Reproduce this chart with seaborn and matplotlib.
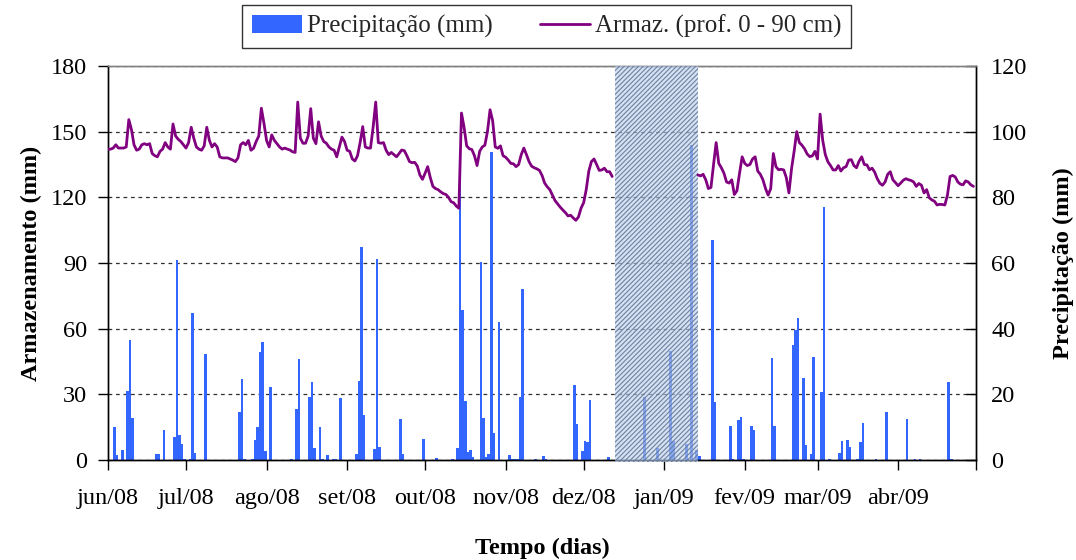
import numpy as np
import pandas as pd
import matplotlib
matplotlib.use("Agg")
import matplotlib.pyplot as plt
from matplotlib.patches import Patch
from matplotlib.lines import Line2D
import seaborn as sns

nan = np.nan

# Daily soil water storage, 0-90 cm (mm), one list per month; NaN = no reading
armaz_jun = [142, 142, 142.5, 144, 142.5, 142.5, 142.5, 143, 155.5, 151,
             144, 141.5, 142, 144, 144.5, 144, 144.5, 140, 139, 138.5,
             141, 142, 145, 143, 142, 153.5, 148, 146.5, 145.5, 144]
armaz_jul = [142.5, 145, 152, 147, 143, 142, 141.5, 143.5, 152, 146,
             143, 144.5, 143, 138.5, 138, 138, 138, 137.5, 137, 136.3,
             138, 144, 145, 144, 146, 141.5, 142.4, 145.5, 148, 160.7,
             153.8]
armaz_ago = [146, 143, 148.5, 146, 144.5, 143, 142, 142.5, 142, 141.6,
             140.8, 140.5, 163.5, 147, 144.7, 144.7, 148, 160.5, 147, 144.5,
             154.5, 148, 145.5, 144.7, 143, 142, 141.5, 138.5, 143, 147.5,
             145.5]
armaz_set = [141.5, 141, 137.5, 136.6, 139, 145, 152.3, 143, 142.5, 142.5,
             152, 163.5, 145, 144.7, 145, 141.5, 139.5, 140.5, 139.5, 138.5,
             140, 141.6, 141.3, 139, 136.3, 135.8, 136, 134.3, 130.2, 128.2]
armaz_out = [131, 134, 129, 125, 124, 123.5, 122.5, 121.7, 121.3, 120,
             118, 117.5, 116, 115, 158.5, 152, 143.5, 142.2, 141.8, 139,
             134.5, 141, 143, 143.8, 150, 160, 155, 143, 142.4, 143.5,
             139]
armaz_nov = [138.3, 137, 135.5, 135.3, 134, 135, 139.5, 142.5, 139.5, 136.3,
             134.2, 133.5, 133, 132.3, 130, 126.5, 124.8, 123.5, 121, 118.5,
             117, 115.5, 114.2, 113, 111.5, 111.8, 110.6, 109.5, 111, 115]
armaz_dez = [117.5, 123.5, 132, 136.3, 137.5, 135, 132.3, 132.5, 133.3, 131.7,
             131.7, 129.5] + [nan] * 19
armaz_jan = [nan] * 13 + [130.2, 129.8, 130.5, 128, 124, 124.5, 135, 145, 135.5, 133.5,
                          131, 127, 126.5, 128, 121.3, 123, 131, 138.5]
armaz_fev = [135.5, 134.5, 135, 137.5, 138.5, 132, 130.5, 128, 124, 121,
             124, 140, 134, 132.6, 132.8, 132.5, 129, 122, 133, 141,
             150, 145, 143.8, 142.2, 139.8, 138.6, 138.9, 141]
armaz_mar = [137.5, 158, 146, 139.5, 136.2, 134.5, 132.5, 132.5, 134.5, 132,
             133.5, 134, 137, 137.2, 134.5, 133.5, 136.5, 138.5, 135, 134.8,
             132.6, 133.3, 131.5, 128.5, 126.4, 125.5, 127, 130.5, 131.7, 128,
             126.7]
armaz_abr = [125.3, 126.5, 127.8, 128.5, 128, 127.7, 127, 125, 126.3, 125.5,
             122, 123.5, 119.8, 118.8, 118.2, 116.5, 116.8, 116.7, 116.5, 121,
             129.5, 130, 129.3, 127, 126, 125.7, 127.5, 127, 125.7, 125]

# Daily rainfall (mm), one list per month
prec_jun = [0, 0, 10, 1.5, 0, 3, 0, 21, 36.5, 12.7,
            0, 0, 0, 0, 0, 0, 0, 0, 1.8, 1.8,
            0, 9, 0, 0, 0, 7, 61, 7.6, 4.9, 0.3]
prec_jul = [0, 0.3, 44.7, 2, 0, 0, 0, 32.3, 0, 0,
            0, 0, 0, 0, 0, 0, 0, 0, 0, 0,
            14.7, 24.7, 0.3, 0, 0, 0.3, 6.1, 10, 32.8, 35.8,
            2.7]
prec_ago = [0, 22.1, 0, 0, 0, 0, 0, 0, 0, 0.3,
            0, 15.4, 30.8, 0, 0, 0, 19.1, 23.7, 3.6, 0,
            10, 0.2, 0, 1.5, 0, 0.3, 0.3, 0, 18.8, 0,
            0]
prec_set = [0, 0, 0, 1.8, 24.1, 64.8, 13.7, 0, 0, 0,
            3.4, 61.1, 3.9, 0, 0, 0, 0, 0, 0, 0,
            12.4, 1.8, 0, 0, 0, 0, 0, 0, 0, 6.3]
prec_out = [0, 0, 0, 0, 0.6, 0, 0, 0, 0, 0,
            0.3, 0, 3.6, 84.3, 45.7, 18, 2.5, 3, 0.8, 0,
            0, 60.2, 12.7, 0.8, 1.8, 93.7, 8.3, 0, 41.9, 0,
            0]
prec_nov = [0, 1.5, 0.3, 0.3, 0.3, 19.1, 52, 0, 0, 0,
            0, 0.3, 0, 0, 1.2, 0.3, 0, 0, 0, 0,
            0, 0, 0, 0, 0, 0, 22.8, 11, 0, 2.8]
prec_dez = [5.8, 5.6, 18.3, 0, 0, 0, 0, 0, 0, 0.9,
            0, 0, 0, 0, 0, 0, 0, 0, 0, 0,
            0, 0, 0, 19.3, 0, 0, 0, 0, 3.6, 0,
            0]
prec_jan = [0, 0, 33.3, 5.8, 0, 0, 0, 0, 4.9, 0,
            96, 0, 3, 1.2, 0, 0, 0, 0, 67, 17.6,
            0, 0, 0, 0, 0, 10.4, 0.3, 0, 12.2, 13,
            0.3]
prec_fev = [0, 0, 10.4, 9.1, 0, 0, 0, 0, 0, 0,
            31.2, 10.4, 0, 0, 0, 0, 0, 0, 35, 39.6,
            43.1, 0, 24.9, 4.6, 0, 1.8, 31.5, 0]
prec_mar = [0, 20.6, 77, 0, 0.3, 0, 0, 0, 2, 5.8,
            0, 6.1, 3.9, 0, 0, 0.2, 5.6, 11.4, 0, 0,
            0, 0, 0.3, 0, 0, 0, 14.7, 0, 0, 0,
            0]
prec_abr = [0, 0, 0, 12.5, 0, 0, 0.3, 0, 0.3, 0,
            0, 0, 0, 0, 0, 0, 0, 0, 0, 23.6,
            0.3, 0, 0, 0, 0, 0, 0, 0, 0, 0]

month_labels = ["jun/08", "jul/08", "ago/08", "set/08", "out/08", "nov/08",
                "dez/08", "jan/09", "fev/09", "mar/09", "abr/09"]
periodo_sem_dados = ("2008-12-13", "2009-01-14")

armaz = sum([armaz_jun, armaz_jul, armaz_ago, armaz_set, armaz_out, armaz_nov,
             armaz_dez, armaz_jan, armaz_fev, armaz_mar, armaz_abr], [])
prec = sum([prec_jun, prec_jul, prec_ago, prec_set, prec_out, prec_nov,
            prec_dez, prec_jan, prec_fev, prec_mar, prec_abr], [])

df = pd.DataFrame({
    "data": pd.date_range("2008-06-01", periods=len(armaz), freq="D"),
    "armaz": armaz,
    "prec": prec,
})

sns.set_theme(style="white")
plt.rcParams["font.family"] = ["Liberation Serif", "DejaVu Serif"]
plt.rcParams["hatch.linewidth"] = 0.85
FS = 17.5

fig = plt.figure(figsize=(10.76, 5.6), dpi=100)
ax = fig.add_axes([0.1004, 0.1786, 0.8067, 0.7036])
ax2 = ax.twinx()
ax.set_zorder(ax2.get_zorder() + 1)
ax.patch.set_visible(False)

# Rainfall bars on the right axis (drawn underneath)
ax2.bar(df["data"], df["prec"], width=1.0, align="edge",
        color="#3366FF", linewidth=0, zorder=2)
ax2.set_ylim(0, 120)
ax2.set_yticks(np.arange(0, 121, 20))
ax2.grid(axis="y", color="#303030", linestyle=(0, (3, 3)), linewidth=0.9, zorder=0)
ax2.grid(axis="x", visible=False)

# Storage line on the left axis, broken where readings are missing
valid = df["armaz"].notna()
runs = (valid != valid.shift()).cumsum()
for _, part in df[valid].groupby(runs[valid]):
    sns.lineplot(data=part, x="data", y="armaz", ax=ax, color="#800080",
                 linewidth=2.0, legend=False, zorder=4)

# Period without storage readings
ax.axvspan(pd.Timestamp(periodo_sem_dados[0]), pd.Timestamp(periodo_sem_dados[1]),
           ymin=-0.006, ymax=1.0, facecolor=(0.74, 0.82, 0.93, 0.62),
           edgecolor=(0.38, 0.46, 0.59, 0.85), hatch="///////", linewidth=0,
           clip_on=False, zorder=3)

ax.set_ylim(0, 180)
ax.set_yticks(np.arange(0, 181, 30))
ticks = pd.date_range("2008-06-01", "2009-05-01", freq="MS")
ax.set_xlim(ticks[0], ticks[-1])
ax.set_xticks(ticks)
ax.set_xticklabels(month_labels + [""])

for a in (ax, ax2):
    for side, sp in a.spines.items():
        sp.set_visible(True)
        sp.set_color("black" if side != "top" else "#808080")
        sp.set_linewidth(1.0)

ax.tick_params(axis="x", bottom=True, direction="out", length=7, width=1,
               color="black", labelsize=FS, pad=13, labelcolor="black")
ax.tick_params(axis="y", left=True, direction="out", length=7, width=1,
               color="black", labelsize=FS, pad=8, labelcolor="black")
ax2.tick_params(axis="y", right=True, direction="in", length=7, width=1,
                color="black", labelsize=FS, pad=11, labelcolor="black")

ax.set_xlabel("Tempo (dias)", fontsize=FS, fontweight="bold", labelpad=21, color="black")
ax.set_ylabel("Armazenamento (mm)", fontsize=FS, fontweight="bold", labelpad=6, color="black")
ax2.set_ylabel("Precipitação (mm)", fontsize=FS, fontweight="bold", labelpad=18,
               color="black")

handles = [Patch(facecolor="#3366FF", edgecolor="none"),
           Line2D([], [], color="#800080", linewidth=2.0)]
leg = fig.legend(handles, ["Precipitação (mm)", "Armaz. (prof. 0 - 90 cm)"],
                 loc="center", bbox_to_anchor=(0.508, 0.953), ncol=2,
                 frameon=True, fancybox=False, fontsize=FS + 0.5,
                 handlelength=2.0, handleheight=0.75, handletextpad=0.2,
                 columnspacing=1.9, borderpad=0.4, borderaxespad=0)
leg.get_frame().set_edgecolor("black")
leg.get_frame().set_linewidth(1.0)

fig.savefig("out.png", dpi=100, facecolor="white")
